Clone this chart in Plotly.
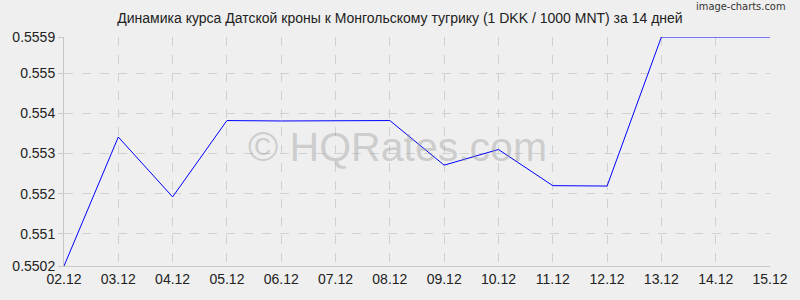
import plotly.graph_objects as go

dates = ["02.12", "03.12", "04.12", "05.12", "06.12", "07.12", "08.12",
         "09.12", "10.12", "11.12", "12.12", "13.12", "14.12", "15.12"]
rates = [0.5502, 0.55341, 0.55192, 0.55382, 0.55381, 0.55381, 0.55382,
         0.55271, 0.55310, 0.55220, 0.55219, 0.5559, 0.5559, 0.5559]
y_ticks = [0.5502, 0.551, 0.552, 0.553, 0.554, 0.555, 0.5559]
y_tick_text = ["0.5502", "0.551", "0.552", "0.553", "0.554", "0.555", "0.5559"]
title = "Динамика курса Датской кроны к Монгольскому тугрику (1 DKK / 1000 MNT) за 14 дней"

L, R, T, B = 60, 21, 37, 34
PW, PH = 800 - L - R, 300 - T - B

fig = go.Figure()
fig.add_trace(go.Scatter(x=list(range(len(dates))), y=rates, mode="lines",
                         line=dict(color="#0000ff", width=1), hoverinfo="skip"))

fig.update_layout(
    width=800, height=300,
    margin=dict(l=L, r=R, t=T, b=B),
    paper_bgcolor="#efefef", plot_bgcolor="#efefef",
    showlegend=False,
    font=dict(family="Liberation Sans, Arial, sans-serif", size=14, color="#222"),
    title=dict(text=title, x=0.5, xanchor="center", y=0.94, yanchor="middle",
               font=dict(size=14, color="#222")),
    xaxis=dict(range=[0, len(dates) - 1], tickmode="array",
               tickvals=list(range(len(dates))), ticktext=dates,
               showgrid=True, gridcolor="#d0d0d0", griddash="dash", gridwidth=1,
               zeroline=False, showline=True, linecolor="#c8c8c8", linewidth=1,
               ticks="", ticklen=0, tickfont=dict(size=14, color="#222")),
    yaxis=dict(range=[y_ticks[0], y_ticks[-1]], tickmode="array",
               tickvals=y_ticks, ticktext=y_tick_text,
               showgrid=True, gridcolor="#d0d0d0", griddash="dash", gridwidth=1,
               zeroline=False, showline=True, linecolor="#c8c8c8", linewidth=1,
               ticks="outside", ticklen=5, tickcolor="#c8c8c8",
               tickfont=dict(size=14, color="#222")),
    annotations=[
        dict(text="© HQRates.com", xref="paper", yref="paper",
             x=(400 - L) / PW, y=(300 - B - 147) / PH,
             xanchor="center", yanchor="middle", showarrow=False,
             font=dict(size=41, color="rgba(150,150,150,0.4)",
                       family="Liberation Sans, Arial, sans-serif")),
        dict(text="image-charts.com", xref="paper", yref="paper",
             x=(797 - L) / PW, y=(300 - B - 7) / PH,
             xanchor="right", yanchor="middle", showarrow=False,
             font=dict(size=11, color="#333", family="DejaVu Sans Condensed, sans-serif")),
    ],
)

fig.write_html("out.html")
